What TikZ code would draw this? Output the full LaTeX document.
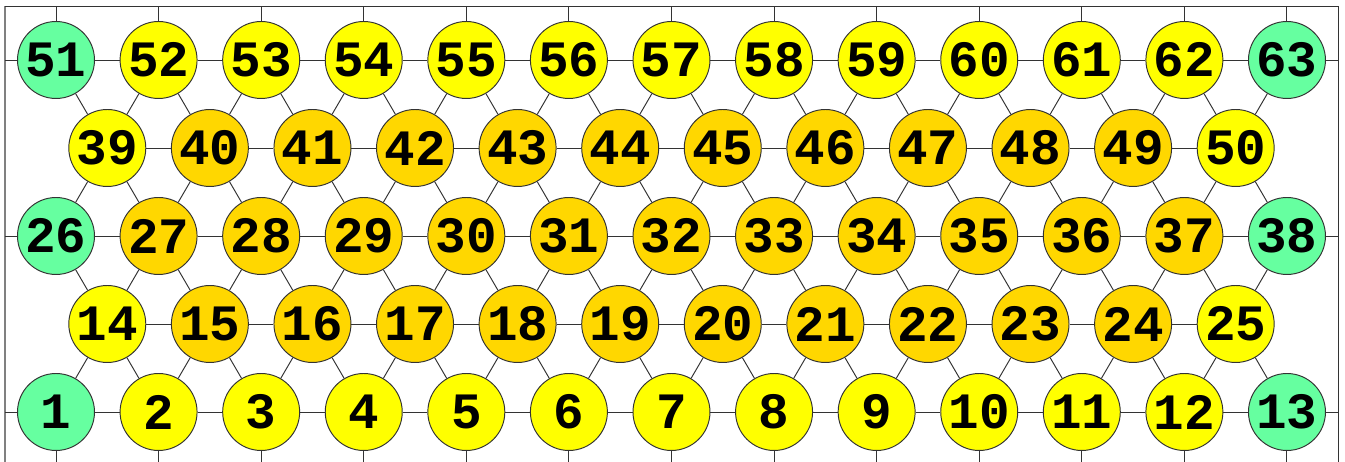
\documentclass[tikz,border=0pt]{standalone}
\usepackage{fontspec}
\newfontfamily\knotenfont{Liberation Mono}
\usetikzlibrary{positioning}
\definecolor{gruen}{HTML}{66FFA0}
\definecolor{gelb}{HTML}{FFFF00}
\definecolor{dunkelgelb}{HTML}{FFD700}
\tikzset{
  knoten/.style={circle, draw=black!80, line width=0.55pt, minimum size=1.54cm, inner sep=0pt,
    font=\knotenfont\bfseries\fontsize{29}{29}\selectfont},
  kante/.style={draw=black!80, line width=0.55pt}
}

\begin{document}
\begin{tikzpicture}[x=0.02cm, y=0.02cm]

            \useasboundingbox (0,0) rectangle (1345,462);

            % Rahmen
            \draw[black!50, line width=1.1pt] (5,-5) -- (5,456);
            \draw[black!80, line width=0.55pt] (5,456) -- (1338,456) -- (1338,-5);
            \coordinate (oben) at (0,456);
            \coordinate (unten) at (0,-5);
            \coordinate (links) at (5,0);
            \coordinate (rechts) at (1338,0);

            % Knoten, Zeile fuer Zeile
            \foreach \zeile/\anzahl/\erste/\ecke/\innen in
              {0/13/1/gruen/gelb, 1/12/14/gelb/dunkelgelb, 2/13/26/gruen/dunkelgelb,
               3/12/39/gelb/dunkelgelb, 4/13/51/gruen/gelb} {
              \foreach \i in {1,...,\anzahl} {
                \pgfmathtruncatemacro\k{\erste+\i-1}
                \pgfmathsetmacro\xx{56+(\i-1)*102.58+mod(\zeile,2)*51.29}
                \ifnum\i=1 \def\farbe{\ecke}\else\ifnum\i=\anzahl\relax \def\farbe{\ecke}\else\def\farbe{\innen}\fi\fi
                \node[knoten, fill=\farbe] (n\k) at (\xx, 50+88*\zeile) {\k};
              }
            }

            % waagrechte Kanten
            \foreach \erste/\letzte in {1/12, 14/24, 26/37, 39/49, 51/62}
              \foreach \k in {\erste,...,\letzte} {
                \pgfmathtruncatemacro\l{\k+1}
                \draw[kante] (n\k) -- (n\l);
              }

            % schraege Kanten
            \foreach \j in {0,...,11} {
              \pgfmathtruncatemacro\a{14+\j}
              \pgfmathtruncatemacro\b{1+\j}
              \pgfmathtruncatemacro\c{2+\j}
              \pgfmathtruncatemacro\d{26+\j}
              \pgfmathtruncatemacro\e{27+\j}
              \pgfmathtruncatemacro\f{39+\j}
              \pgfmathtruncatemacro\g{51+\j}
              \pgfmathtruncatemacro\h{52+\j}
              \draw[kante] (n\a) -- (n\b) (n\a) -- (n\c) (n\a) -- (n\d) (n\a) -- (n\e);
              \draw[kante] (n\f) -- (n\d) (n\f) -- (n\e) (n\f) -- (n\g) (n\f) -- (n\h);
            }

            % Striche zum Rand
            \foreach \k in {1,...,13} \draw[kante] (n\k) -- (n\k |- unten);
            \foreach \k in {51,...,63} \draw[kante] (n\k) -- (n\k |- oben);
            \foreach \k in {1,26,51} \draw[kante] (n\k) -- (n\k -| links);
            \foreach \k in {13,38,63} \draw[kante] (n\k) -- (n\k -| rechts);

         \end{tikzpicture}
\end{document}
